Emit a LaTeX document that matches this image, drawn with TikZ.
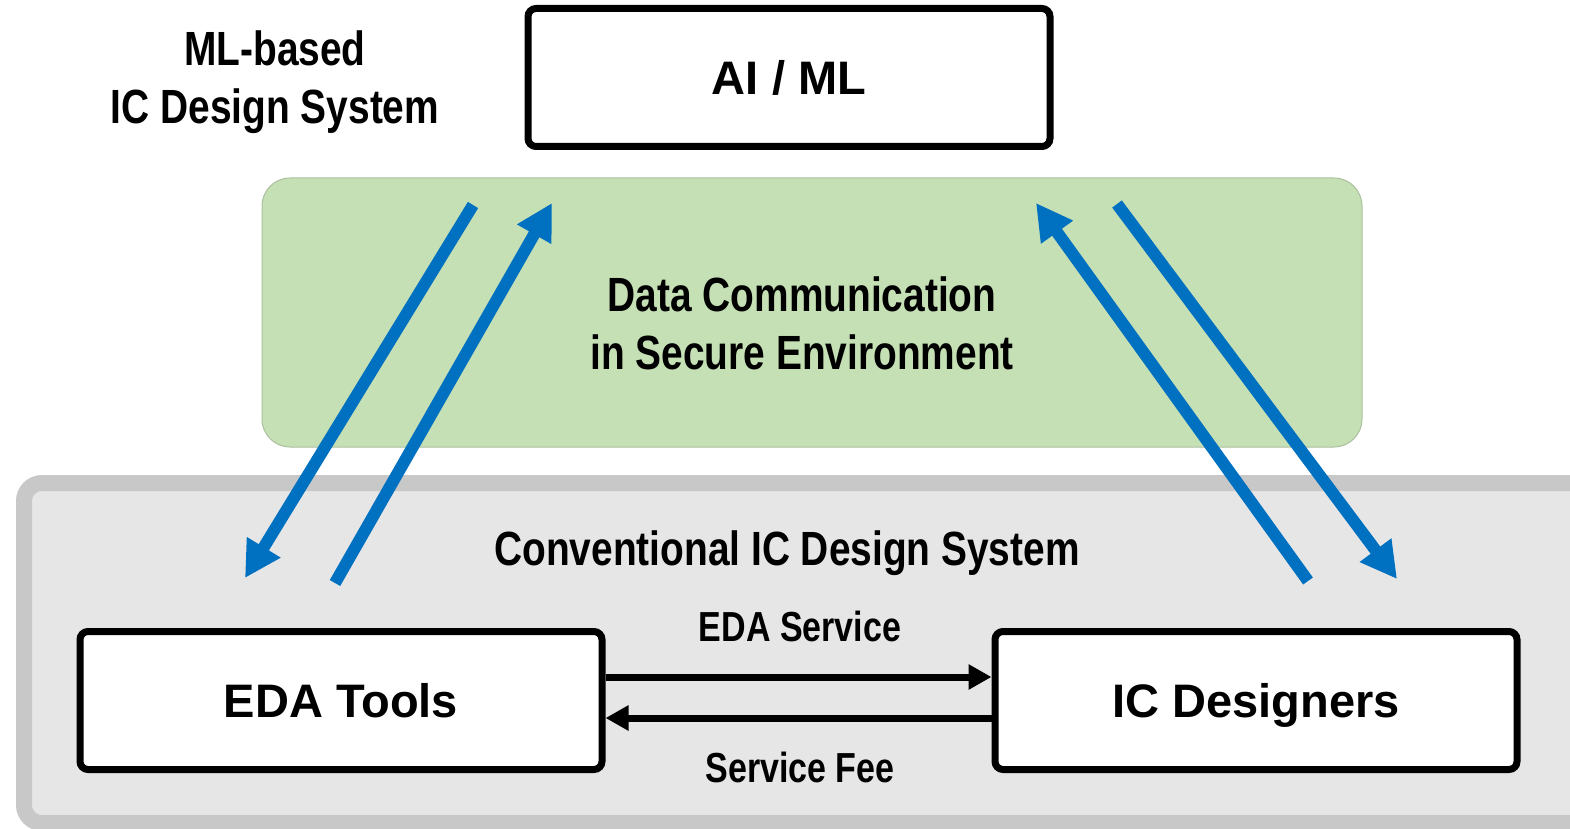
\documentclass[tikz,border=0pt]{standalone}
\usepackage{fontspec}
\setmainfont{Liberation Sans}
\newfontfamily\narrowfont[FakeStretch=0.81]{Liberation Sans}
\usetikzlibrary{arrows.meta}

\definecolor{secgreen}{RGB}{197,224,180}
\definecolor{secgreenline}{RGB}{172,192,160}
\definecolor{convfill}{RGB}{230,230,230}
\definecolor{convline}{RGB}{200,200,200}
\definecolor{flowblue}{RGB}{0,112,192}

\begin{document}
\begin{tikzpicture}[x=1pt,y=-1pt,
  entity/.style={draw=black, line width=7pt, rounded corners=8pt, fill=white,
    minimum width=522pt, minimum height=138pt, inner sep=0pt,
    text depth=0pt, text height=34pt,
    font=\fontsize{47}{52}\selectfont\bfseries},
  caption/.style={font=\narrowfont\fontsize{48}{58}\selectfont\bfseries,
    align=center, inner sep=0pt},
  flowlabel/.style={font=\narrowfont\fontsize{42}{50}\selectfont\bfseries,
    inner sep=0pt, anchor=base},
  blueflow/.style={draw=flowblue, line width=12pt,
    -{Triangle[length=36pt,width=37pt]}},
  money/.style={draw=black, line width=7pt,
    -{Triangle[length=23pt,width=24pt]}}
]
\useasboundingbox (0,0) rectangle (1570,829);

% conventional system frame, running past the right and bottom edges
\begin{scope}
  \clip (0,0) rectangle (1570,829);
  \draw[draw=convline, fill=convfill, line width=16pt, rounded corners=18pt]
    (24,483) rectangle (1640,823);
\end{scope}

% secure data-communication zone
\node[draw=secgreenline, fill=secgreen, line width=1pt, rounded corners=28pt,
      minimum width=1100pt, minimum height=269pt, inner sep=0pt]
  (secure) at (812,312.5) {};

% captions
\node[caption] (mlsys) at (275,82.5) {ML-based\\IC Design System};
\node[caption] (comm) at (802,323) {Data Communication\\in Secure Environment};
\node[caption, anchor=base] (conv) at (787,565) {Conventional IC Design System};

% main entities
\node[entity] (aiml) at (789,77.5) {AI / ML};
\node[entity] (eda) at (341,700.5) {EDA Tools};
\node[entity] (icd) at (1256,700.5) {IC Designers};

% service and fee exchange
\draw[money] (eda.east |- 0,677) -- (icd.west |- 0,677);
\draw[money] (icd.west |- 0,718) -- (eda.east |- 0,718);
\node[flowlabel] (svc) at (800,641) {EDA Service};
\node[flowlabel] (fee) at (800,782) {Service Fee};

% data flows through the secure zone
\coordinate (a1s) at (473,205);  \coordinate (a1e) at (245,578);
\coordinate (a2s) at (335,583);  \coordinate (a2e) at (552,203);
\coordinate (a3s) at (1308,581); \coordinate (a3e) at (1036,203);
\coordinate (a4s) at (1117,204); \coordinate (a4e) at (1397,579);
\draw[blueflow] (a1s) -- (a1e);
\draw[blueflow] (a2s) -- (a2e);
\draw[blueflow] (a3s) -- (a3e);
\draw[blueflow] (a4s) -- (a4e);
\end{tikzpicture}
\end{document}
